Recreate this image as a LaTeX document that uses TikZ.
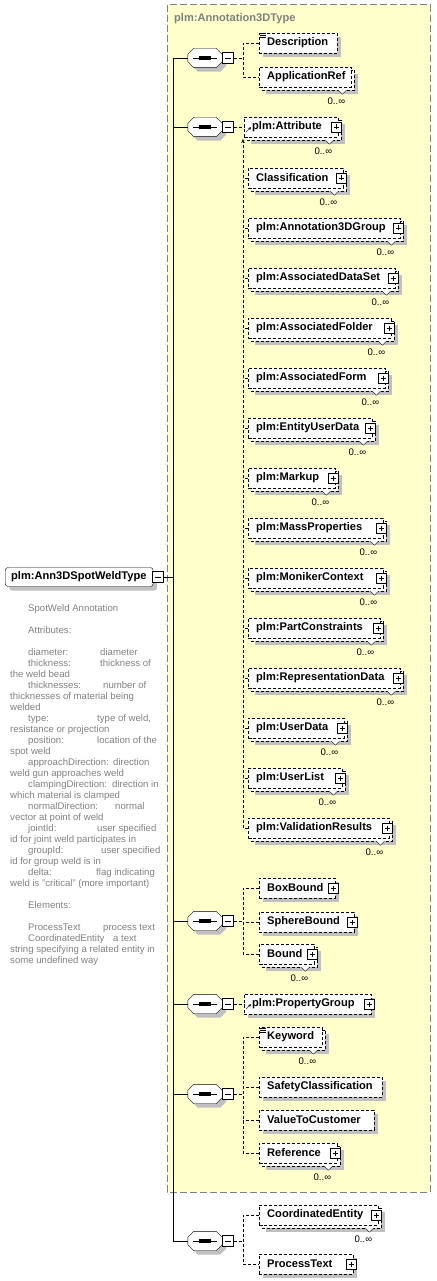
\documentclass[tikz,border=0pt]{standalone}
\usepackage{fontspec}
\setmainfont{Liberation Sans}
\usetikzlibrary{shadows,arrows.meta}

\definecolor{typeyellow}{HTML}{FFFFCC}
\definecolor{shadowgray}{HTML}{C0C0C0}
\definecolor{docgray}{HTML}{808080}

\pgfdeclarelayer{bg}
\pgfdeclarelayer{back}
\pgfsetlayers{bg,back,main}

\newcommand{\lblfont}{\fontsize{11.1}{13}\selectfont\bfseries}
\newcommand{\docfont}{\fontsize{9.6}{11}\selectfont}
% second box behind an element that may repeat
\newcommand{\multiback}[1]{%
  \begin{pgfonlayer}{back}
    \fill[shadowgray] ([shift={(7,7)}]#1.north west) rectangle ([shift={(7,7)}]#1.south east);
    \draw[elline, fill=white] ([shift={(3,3)}]#1.north west) rectangle ([shift={(3,3)}]#1.south east);
  \end{pgfonlayer}}
\newcommand{\card}[1]{%
  \draw[solid, fill=white] ([shift={(-13,3)}]#1.south east) -- ++(4,4) -- ++(4,-4);
  \node[cardlbl] (#1-c) at ([shift={(-15,14)}]#1.south east) {0..∞};}
\newcommand{\expander}[1]{\node[plusbox] (#1-p) at ([xshift=-2pt]#1.east) {};}
\newcommand{\docmark}[1]{%
  \draw[solid, line width=0.6pt] ([shift={(1,1)}]#1.north west) -- ++(6,0)
    ([shift={(1,3)}]#1.north west) -- ++(6,0) ([shift={(1,5)}]#1.north west) -- ++(6,0);}
\newcommand{\refmark}[1]{%
  \draw[solid, -{Stealth[length=3pt,width=3pt]}] ([shift={(2,-5)}]#1.south west) -- ++(5,-5);}
% octagon of a sequence compositor, shifted by #2
\newcommand{\octagon}[3]{%
  \path[#3] ([shift={(#2+6,#2)}]#1.north west) -- ([shift={(#2-6,#2)}]#1.north east)
    -- ([shift={(#2,#2+6)}]#1.north east) -- ([shift={(#2,#2-6)}]#1.south east)
    -- ([shift={(#2-6,#2)}]#1.south east) -- ([shift={(#2+6,#2)}]#1.south west)
    -- ([shift={(#2,#2-6)}]#1.south west) -- ([shift={(#2,#2+6)}]#1.north west) -- cycle;}

\begin{document}
\begin{tikzpicture}[x=1pt, y=-1pt, line width=0.8pt,
  elline/.style={dash pattern=on 3pt off 2pt},
  branch/.style={elline},
  sh/.style={drop shadow={shadow xshift=4pt, shadow yshift=-4pt, fill=shadowgray, opacity=1}},
  elem/.style={draw, elline, fill=white, anchor=west, minimum height=20pt,
    inner xsep=8pt, inner ysep=0pt, align=left, font=\lblfont, text width=#1},
  typenode/.style={draw, solid, fill=white, rounded corners=3pt, anchor=west,
    minimum height=19pt, inner xsep=6pt, inner ysep=0pt, align=left,
    text width=136pt, font=\lblfont, sh},
  seqbox/.style={minimum width=34pt, minimum height=19pt, inner sep=0pt},
  minusbox/.style={draw, solid, fill=white, minimum size=11pt, inner sep=0pt,
    line width=0.7pt, path picture={\draw ([xshift=2.5pt]path picture bounding box.west)
      -- ([xshift=-2.5pt]path picture bounding box.east);}},
  plusbox/.style={minusbox, minimum size=10pt, path picture={
      \draw ([xshift=2.5pt]path picture bounding box.west) -- ([xshift=-2.5pt]path picture bounding box.east);
      \draw ([yshift=-2.5pt]path picture bounding box.north) -- ([yshift=2.5pt]path picture bounding box.south);}},
  doctext/.style={anchor=north west, inner sep=0pt, align=left, text=docgray, font=\docfont},
  cardlbl/.style={inner sep=0pt, font=\docfont},
  titlelbl/.style={anchor=west, inner sep=0pt, text=docgray, font=\lblfont}]
  \useasboundingbox (0,0) rectangle (436,1281);

  % the complex type area
  \begin{pgfonlayer}{bg}
    \fill[typeyellow] (167,5) rectangle (430,1192);
    \draw[docgray, line width=1pt, dash pattern=on 7pt off 3pt] (167,5) rectangle (430,1192);
  \end{pgfonlayer}
  \node[titlelbl] (anntitle) at (174,19) {plm:Annotation3DType};

  % global element and its documentation
  \node[typenode] (spot) at (5,577) {plm:Ann3DSpotWeldType};
  \node[minusbox] (spotm) at (157.5,577) {};
  \node[doctext] (spotdoc) at (10,604) {%
    \hspace*{18pt}SpotWeld Annotation\\[11pt]
    \hspace*{18pt}Attributes:\\[11pt]
    \hspace*{18pt}\makebox[72pt][l]{diameter:}diameter\\
    \hspace*{18pt}\makebox[72pt][l]{thickness:}thickness of\\
    the weld bead\\
    \hspace*{18pt}\makebox[75pt][l]{thicknesses:}number of\\
    thicknesses of material being\\
    welded\\
    \hspace*{18pt}\makebox[69pt][l]{type:}type of weld,\\
    resistance or projection\\
    \hspace*{18pt}\makebox[69pt][l]{position:}location of the\\
    spot weld\\
    \hspace*{18pt}\makebox[85pt][l]{approachDirection:}direction\\
    weld gun approaches weld\\
    \hspace*{18pt}\makebox[84pt][l]{clampingDirection:}direction in\\
    which material is clamped\\
    \hspace*{18pt}\makebox[87pt][l]{normalDirection:}normal\\
    vector at point of weld\\
    \hspace*{18pt}\makebox[69pt][l]{jointId:}user specified\\
    id for joint weld participates in\\
    \hspace*{18pt}\makebox[73pt][l]{groupId:}user specified\\
    id for group weld is in\\
    \hspace*{18pt}\makebox[68pt][l]{delta:}flag indicating\\
    weld is "critical" (more important)\\[11pt]
    \hspace*{18pt}Elements:\\[11pt]
    \hspace*{18pt}\makebox[75pt][l]{ProcessText}process text\\
    \hspace*{18pt}\makebox[85pt][l]{CoordinatedEntity}a text\\
    string specifying a related entity in\\
    some undefined way};

  % sequence compositors
  \node[seqbox] (s1) at (205,58) {};
  \node[seqbox] (s2) at (205,127) {};
  \node[seqbox] (s3) at (205,921) {};
  \node[seqbox] (s4) at (205,1004) {};
  \node[seqbox] (s5) at (205,1094) {};
  \node[seqbox] (s6) at (205,1241) {};
  \foreach \s in {s1,s2,s3,s4,s5,s6} {
    \octagon{\s}{4}{fill=shadowgray}
    \octagon{\s}{0}{draw, fill=white}
    \draw (\s.center) +(-12,0) -- +(12,0);
    \foreach \dx in {-4,0,4}
      \fill ([xshift=\dx pt]\s.center) +(-1.6,-1.6) rectangle +(1.6,1.6);
    \node[minusbox] (\s-m) at ([xshift=5.5pt]\s.east) {};
  }
  \coordinate (trunk) at (173,0);
  \coordinate (branch) at (243,0);
  \draw (spotm.east) -- (spotm.east -| trunk);
  \draw (s1.west) -- (s1.west -| trunk) -- (s6.west -| trunk) -- (s6.west);
  \foreach \s in {s2,s3,s4,s5}
    \draw (\s.west) -- (\s.west -| trunk);

  % first sequence
  \node[elem=62pt, sh] (desc) at (259,43) {Description};
  \node[elem=76pt] (appref) at (259,77) {ApplicationRef};
  \docmark{desc}
  \multiback{appref}\card{appref}
  \draw[branch] (s1-m.east) -- (s1-m.east -| branch);
  \draw[branch] (desc.west) -- (desc.west -| branch) |- (appref.west);

  % second sequence
  \node[elem=78pt] (attr) at (244,127) {plm:Attribute};
  \node[elem=79pt] (class) at (248,178) {Classification};
  \node[elem=136pt] (a3g) at (248,228) {plm:Annotation3DGroup};
  \node[elem=131pt] (ads) at (248,278) {plm:AssociatedDataSet};
  \node[elem=127pt] (afolder) at (248,328) {plm:AssociatedFolder};
  \node[elem=121pt] (aform) at (248,378) {plm:AssociatedForm};
  \node[elem=108pt] (eud) at (248,428) {plm:EntityUserData};
  \node[elem=71pt] (markup) at (248,478) {plm:Markup};
  \node[elem=119pt] (massp) at (248,528) {plm:MassProperties};
  \node[elem=119pt] (moniker) at (248,578) {plm:MonikerContext};
  \node[elem=116pt] (partc) at (248,628) {plm:PartConstraints};
  \node[elem=136pt] (repd) at (248,678) {plm:RepresentationData};
  \node[elem=80pt] (userdata) at (248,728) {plm:UserData};
  \node[elem=78pt] (userlist) at (248,778) {plm:UserList};
  \node[elem=125pt] (valres) at (248,828) {plm:ValidationResults};
  \foreach \e in {attr,class,a3g,ads,afolder,aform,eud,markup,massp,moniker,partc,repd,userdata,userlist,valres} {
    \multiback{\e}\card{\e}\expander{\e}
  }
  \refmark{attr}
  \coordinate (g2top) at (243,139);
  \draw[branch] (s2-m.east) -- (attr.west);
  \draw[branch, -{Stealth[length=4pt,width=3.5pt]}] (valres.west) -- (valres.west -| g2top) -- (g2top);
  \foreach \e in {class,a3g,ads,afolder,aform,eud,markup,massp,moniker,partc,repd,userdata,userlist}
    \draw[branch] (\e.west) -- (\e.west -| g2top);

  % third sequence
  \node[elem=60pt, sh] (boxb) at (259,888) {BoxBound};
  \node[elem=79pt, sh] (sphb) at (259,922) {SphereBound};
  \node[elem=39pt] (bound) at (259,954) {Bound};
  \expander{boxb}\expander{sphb}
  \multiback{bound}\card{bound}\expander{bound}
  \draw[branch] (s3-m.east) -- (s3-m.east -| branch);
  \draw[branch] (boxb.west) -- (boxb.west -| branch) |- (bound.west);
  \draw[branch] (sphb.west) -- (sphb.west -| branch);

  % fourth sequence
  \node[elem=111pt, sh] (propg) at (244,1004) {plm:PropertyGroup};
  \expander{propg}\refmark{propg}
  \draw[branch] (s4-m.east) -- (propg.west);

  % fifth sequence
  \node[elem=47pt] (keyword) at (259,1037) {Keyword};
  \node[elem=107pt, sh] (safety) at (259,1087) {SafetyClassification};
  \node[elem=99pt, sh] (vtc) at (259,1120) {ValueToCustomer};
  \node[elem=62pt] (refer) at (259,1153) {Reference};
  \docmark{keyword}
  \multiback{keyword}\card{keyword}
  \multiback{refer}\card{refer}\expander{refer}
  \draw[branch] (s5-m.east) -- (s5-m.east -| branch);
  \draw[branch] (keyword.west) -- (keyword.west -| branch) |- (refer.west);
  \draw[branch] (safety.west) -- (safety.west -| branch);
  \draw[branch] (vtc.west) -- (vtc.west -| branch);

  % sixth sequence
  \node[elem=103pt] (coord) at (259,1215) {CoordinatedEntity};
  \node[elem=78pt, sh] (ptext) at (259,1264) {ProcessText};
  \multiback{coord}\card{coord}\expander{coord}
  \expander{ptext}
  \draw[branch] (s6-m.east) -- (s6-m.east -| branch);
  \draw[branch] (coord.west) -- (coord.west -| branch) |- (ptext.west);
\end{tikzpicture}
\end{document}
